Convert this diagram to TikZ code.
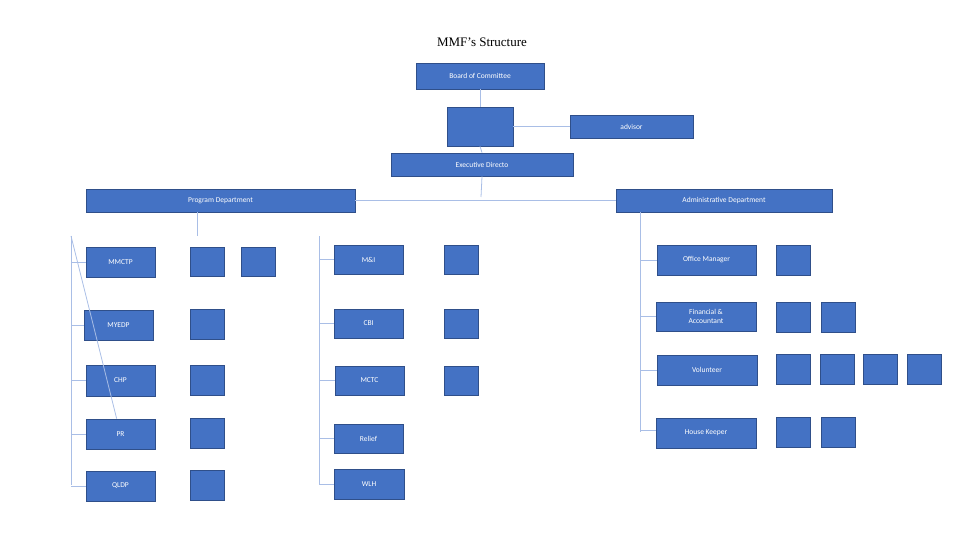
\documentclass[tikz,border=0pt]{standalone}
\usepackage{fontspec}
\setmainfont{Carlito}
\newfontfamily\titlefont{Liberation Serif}
\definecolor{boxfill}{HTML}{4472C4}
\definecolor{boxedge}{HTML}{2F4F8A}
\definecolor{conn}{HTML}{A9BEE6}
\newcommand{\bx}[6]{\node[bx, minimum width={(#4-#2)*1pt}, minimum height={(#5-#3)*1pt}] (#1) at ({(#2+#4)/2},{(#3+#5)/2}) {#6};}
\tikzset{bx/.style={draw=boxedge, fill=boxfill, line width=0.8pt, text=white, font=\fontsize{7.5}{8.5}\selectfont, align=center, inner sep=0pt},
cn/.style={draw=conn, line width=0.8pt}}
\begin{document}
\begin{tikzpicture}[x=1pt,y=-1pt]
\useasboundingbox (0,0) rectangle (960,540);
\node[font=\titlefont\fontsize{13}{15}\selectfont] (title) at (482,42) {MMF’s Structure};
% connectors first
\coordinate (j1) at (481,197);
\coordinate (pj) at (197,236);
\coordinate (pl) at (71,236);
\coordinate (pr) at (322,236);
\coordinate (plb) at (71,485);
\coordinate (rtop) at (319,236);
\coordinate (rbot) at (319,485);
\coordinate (atop) at (640,212);
\coordinate (abot) at (640,432);
\bx{board}{416}{63}{544}{89}{Board of Committee}
\bx{blank}{447}{107}{513}{146}{}
\bx{adv}{570}{115}{693}{138}{advisor}
\bx{exec}{391}{153}{573}{176}{Executive Directo}
\bx{prog}{86}{189}{355}{212}{Program Department}
\bx{admin}{616}{189}{832}{212}{Administrative Department}
\bx{mmctp}{86}{247}{155}{277}{MMCTP}
\bx{myedp}{84}{310}{153}{340}{MYEDP}
\bx{chp}{86}{365}{155}{396}{CHP}
\bx{pr}{86}{419}{155}{449}{PR}
\bx{qldp}{86}{471}{155}{501}{QLDP}
\bx{s1}{190}{247}{224}{276}{}
\bx{s1b}{241}{247}{275}{276}{}
\bx{s2}{190}{309}{224}{339}{}
\bx{s3}{190}{365}{224}{395}{}
\bx{s4}{190}{418}{224}{448}{}
\bx{s5}{190}{470}{224}{500}{}
\bx{mi}{334}{245}{403}{274}{M\&I}
\bx{cbi}{334}{309}{403}{338}{CBI}
\bx{mctc}{335}{366}{404}{395}{MCTC}
\bx{relief}{334}{424}{403}{453}{Relief}
\bx{wlh}{334}{469}{404}{499}{WLH}
\bx{t1}{444}{245}{478}{274}{}
\bx{t2}{444}{309}{478}{338}{}
\bx{t3}{444}{366}{478}{395}{}
\bx{om}{657}{245}{756}{275}{Office Manager}
\bx{fin}{656}{302}{756}{331}{Financial \&\\Accountant}
\bx{vol}{657}{355}{757}{385}{Volunteer}
\bx{hk}{656}{418}{756}{448}{House Keeper}
\bx{u1}{776}{245}{810}{275}{}
\bx{u2}{776}{302}{810}{332}{}
\bx{u2b}{821}{302}{855}{332}{}
\bx{u3}{776}{354}{810}{384}{}
\bx{u3b}{820}{354}{854}{384}{}
\bx{u3c}{863}{354}{897}{384}{}
\bx{u3d}{907}{354}{941}{384}{}
\bx{u4}{776}{417}{810}{447}{}
\bx{u4b}{821}{417}{855}{447}{}
\begin{scope}[on background layer/.style={}]
\end{scope}
\path[cn] (board.south) -- (blank.north);
\path[cn] (blank.east) -- (adv.west);
\path[cn] (blank.south) -- (exec.north);
\path[cn] (exec.south) -- (j1);
\path[cn] (prog.east) -- (admin.west);
\path[cn] (prog.south -| pj) -- (pj);
\path[cn] (pl) -- (pr);
\path[cn] (pl) -- (plb);
\path[cn] (rtop) -- (rbot);
\path[cn] (atop) -- (abot);
\foreach \n/\y in {mmctp/262,myedp/325,chp/380,pr/434,qldp/486} \path[cn] (71,\y) -- (\n.west |- 0,\y);
\foreach \n/\y in {mi/259,cbi/323,mctc/380,relief/438,wlh/484} \path[cn] (319,\y) -- (\n.west |- 0,\y);
\foreach \n/\y in {om/260,fin/316,vol/370,hk/430} \path[cn] (640,\y) -- (\n.west |- 0,\y);
\end{tikzpicture}
\end{document}
